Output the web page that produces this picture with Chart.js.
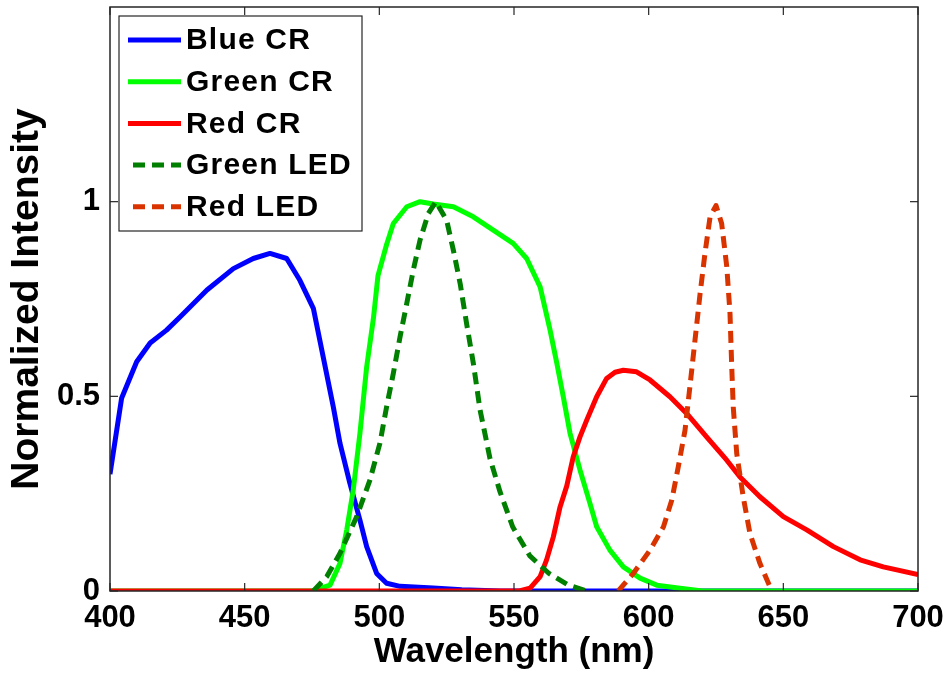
<!DOCTYPE html>
<html><head><meta charset="utf-8">
<script src="https://cdn.jsdelivr.net/npm/chart.js@4"></script>
<style>html,body{margin:0;padding:0;background:#fff;overflow:hidden}</style>
</head><body>
<canvas id="c" width="947" height="675"></canvas>
<script>
// ---- data ----
const xTicks = [400, 450, 500, 550, 600, 650, 700];
const yTicks = [0, 0.5, 1];
const seriesNames = ['Blue CR', 'Green CR', 'Red CR', 'Green LED', 'Red LED'];

const blueWl  = [400, 404.3, 409.9, 414.9, 421, 426, 436, 445.8, 453.2, 459.4, 465.6, 470.5, 475.5, 479.2, 482.9, 485.4, 489.1, 492.8, 495.3, 499, 502.7, 507.7, 520, 530.6, 545, 600, 700];
const blueVal = [0.30, 0.495, 0.589, 0.637, 0.67, 0.704, 0.773, 0.828, 0.854, 0.867, 0.854, 0.798, 0.726, 0.60, 0.473, 0.379, 0.276, 0.182, 0.114, 0.045, 0.02, 0.012, 0.008, 0.003, 0, 0, 0];

const greenWl  = [400, 476, 478, 481.7, 485.4, 487.9, 490.3, 492.8, 495.3, 497.8, 499.5, 502.7, 505.2, 510.2, 515.1, 520, 527.5, 534.9, 542.3, 549.7, 554.7, 559.7, 563.4, 565.9, 568.3, 570.8, 574.5, 578.2, 580.7, 585.6, 590.6, 596.8, 603, 611.6, 620, 700];
const greenVal = [0, 0, 0.007, 0.015, 0.071, 0.157, 0.259, 0.405, 0.576, 0.70, 0.81, 0.89, 0.944, 0.987, 1.0, 0.994, 0.987, 0.961, 0.927, 0.893, 0.854, 0.781, 0.67, 0.585, 0.499, 0.405, 0.311, 0.225, 0.165, 0.105, 0.062, 0.033, 0.015, 0.007, 0, 0];

const redWl  = [400, 552, 555.9, 559.7, 562.1, 564.6, 567.1, 569.6, 572, 574.5, 577, 580.7, 584.4, 587.5, 590.6, 595.5, 600.5, 607.9, 614.1, 621.5, 629, 633.9, 641.3, 650, 658.7, 668.6, 678.5, 687.1, 700];
const redVal = [0, 0, 0.007, 0.037, 0.08, 0.139, 0.216, 0.27, 0.345, 0.396, 0.439, 0.499, 0.546, 0.562, 0.567, 0.563, 0.542, 0.499, 0.456, 0.396, 0.336, 0.293, 0.242, 0.191, 0.157, 0.114, 0.08, 0.062, 0.042];

const greenLedWl  = [475.5, 480.5, 485.4, 491.6, 496.5, 500.2, 502.7, 505.2, 507.7, 510.2, 512.6, 515.1, 518.2, 521, 525, 527.5, 530, 532.4, 534.9, 537.4, 541.1, 544.8, 549.5, 555.9, 563, 570, 577];
const greenLedVal = [0, 0.037, 0.097, 0.191, 0.285, 0.379, 0.473, 0.559, 0.653, 0.739, 0.824, 0.901, 0.970, 1.0, 0.952, 0.875, 0.79, 0.687, 0.585, 0.465, 0.34, 0.255, 0.165, 0.09, 0.045, 0.016, 0];

const redLedWl  = [588.7, 594.3, 600.5, 605.5, 608.6, 611, 613.5, 615.3, 617.2, 619.1, 620.9, 622.8, 625, 627.1, 629, 630.2, 630.8, 631.4, 632.7, 635.1, 637.6, 641.3, 645.7];
const redLedVal = [0, 0.045, 0.105, 0.165, 0.234, 0.319, 0.413, 0.524, 0.644, 0.764, 0.867, 0.961, 0.99, 0.944, 0.833, 0.713, 0.585, 0.473, 0.353, 0.242, 0.148, 0.071, 0];

// ---- build ----
const pts = (xs, ys) => xs.map((x, i) => ({x: x, y: ys[i]}));
const colors = ['#0000FF', '#00FF00', '#FF0000', '#007F00', '#D93300'];
const dashes = [[], [], [], [12, 7], [12, 7]];
const allData = [pts(blueWl, blueVal), pts(greenWl, greenVal), pts(redWl, redVal), pts(greenLedWl, greenLedVal), pts(redLedWl, redLedVal)];

const datasets = seriesNames.map((name, i) => ({
  label: name,
  data: allData[i],
  borderColor: colors[i],
  backgroundColor: colors[i],
  borderWidth: 5,
  borderDash: dashes[i],
  pointRadius: 0,
  fill: false,
  tension: 0,
  order: seriesNames.length - i   // later series drawn on top (MATLAB style)
}));

const FRAME = '#262626';

const framePlugin = {
  id: 'frame',
  afterDatasetsDraw(chart) {
    const {ctx, chartArea: a, scales: {x, y}} = chart;
    ctx.save();
    ctx.strokeStyle = FRAME;
    ctx.lineWidth = 1.5;
    ctx.strokeRect(a.left, a.top, a.right - a.left, a.bottom - a.top);
    ctx.lineWidth = 1.2;
    const L = 8;
    const seg = (x1, y1, x2, y2) => { ctx.beginPath(); ctx.moveTo(x1, y1); ctx.lineTo(x2, y2); ctx.stroke(); };
    xTicks.forEach(v => { const p = x.getPixelForValue(v); seg(p, a.bottom, p, a.bottom - L); seg(p, a.top, p, a.top + L); });
    yTicks.forEach(v => { const p = y.getPixelForValue(v); seg(a.left, p, a.left + L, p); seg(a.right, p, a.right - L, p); });
    ctx.restore();
  }
};

const legendPlugin = {
  id: 'boxLegend',
  afterDraw(chart) {
    const {ctx, chartArea: a} = chart;
    const bx = a.left + 9, by = a.top + 9, bw = 243, bh = 215;
    ctx.save();
    ctx.fillStyle = '#fff';
    ctx.fillRect(bx, by, bw, bh);
    ctx.strokeStyle = FRAME;
    ctx.lineWidth = 1.2;
    ctx.strokeRect(bx, by, bw, bh);
    chart.data.datasets.forEach((ds, i) => {
      const ry = by + 24 + i * 41.7;
      ctx.strokeStyle = ds.borderColor;
      ctx.lineWidth = 5;
      ctx.setLineDash(ds.borderDash || []);
      ctx.beginPath();
      const x0 = ds.borderDash && ds.borderDash.length ? bx + 14 : bx + 9;
      ctx.moveTo(x0, ry); ctx.lineTo(bx + 62, ry); ctx.stroke();
      ctx.setLineDash([]);
      ctx.fillStyle = '#000';
      ctx.font = 'bold 30px "Liberation Sans", Arial, sans-serif';
      try { ctx.letterSpacing = '1.2px'; } catch (e) {}
      ctx.textBaseline = 'middle';
      ctx.textAlign = 'left';
      ctx.fillText(ds.label, bx + 67, ry + 1);
      try { ctx.letterSpacing = '0px'; } catch (e) {}
    });
    ctx.restore();
  }
};

new Chart(document.getElementById('c'), {
  type: 'line',
  data: {datasets: datasets},
  plugins: [framePlugin, legendPlugin],
  options: {
    responsive: false,
    animation: false,
    devicePixelRatio: 1,
    layout: {padding: {top: 7, right: 29, left: 0, bottom: 0}},
    plugins: {legend: {display: false}, tooltip: {enabled: false}},
    elements: {point: {radius: 0}, line: {borderCapStyle: 'butt', borderJoinStyle: 'round'}},
    scales: {
      x: {
        type: 'linear', min: 400, max: 700,
        afterBuildTicks: s => { s.ticks = xTicks.map(v => ({value: v})); },
        grid: {display: false, drawTicks: false},
        border: {display: false},
        ticks: {padding: 9, color: '#000', maxRotation: 0, autoSkip: false,
                font: {family: '"Liberation Sans", Arial, sans-serif', weight: 'bold', size: 31},
                callback: v => String(v)},
        title: {display: true, text: 'Wavelength (nm)', color: '#000',
                font: {family: '"Liberation Sans", Arial, sans-serif', weight: 'bold', size: 35},
                padding: {top: 0, bottom: 2}},
        afterFit: s => { s.height = 84; s.paddingLeft = 0; s.paddingRight = 0; }
      },
      y: {
        type: 'linear', min: 0, max: 1.5,
        afterBuildTicks: s => { s.ticks = yTicks.map(v => ({value: v})); },
        grid: {display: false, drawTicks: false},
        border: {display: false},
        ticks: {padding: 10, color: '#000',
                font: {family: '"Liberation Sans", Arial, sans-serif', weight: 'bold', size: 31},
                callback: v => String(v)},
        title: {display: true, text: 'Normalized Intensity', color: '#000',
                font: {family: '"Liberation Sans", Arial, sans-serif', weight: 'bold', size: 39},
                padding: {top: 4, bottom: 0}},
        afterFit: s => { s.width = 110; s.paddingTop = 0; s.paddingBottom = 0; }
      }
    }
  }
});
</script>
</body></html>
